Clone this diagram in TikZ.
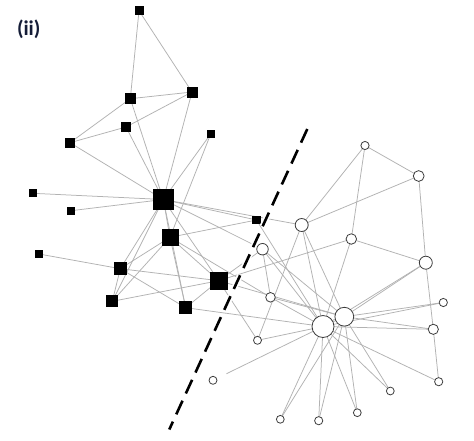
\documentclass[tikz,border=0pt]{standalone}
\usepackage{fontspec}
\setmainfont{Carlito}
\definecolor{edgegray}{RGB}{178,178,178}
\definecolor{ringgray}{RGB}{60,60,60}
\definecolor{labelnavy}{RGB}{20,28,55}
\pgfdeclarelayer{bg}
\pgfsetlayers{bg,main}
\begin{document}
\begin{tikzpicture}[x=1pt,y=-1pt,
  sq/.style={rectangle,fill=black,draw=none,minimum size=#1pt,inner sep=0pt,outer sep=0pt},
  ci/.style={circle,fill=white,draw=ringgray,line width=0.8pt,minimum size=#1pt,inner sep=0pt,outer sep=0pt},
  lnk/.style={draw=edgegray,line width=0.75pt},
  cut/.style={line width=2.6pt,dash pattern=on 15pt off 8pt}]
\useasboundingbox (0,0) rectangle (474,440);
\node[labelnavy,font=\bfseries\fontsize{21}{23}\selectfont] (lbl) at (28.7,29.2) {(ii)};
% squares
\node[sq=21] (n1) at (163.3,199.5) {};
\node[sq=17] (n2) at (170,237.3) {};
\node[sq=18] (n3) at (218.7,280.7) {};
\node[sq=13] (n4) at (120.3,268.7) {};
\node[sq=10] (n5) at (126,127) {};
\node[sq=11] (n6) at (130.3,98.7) {};
\node[sq=11] (n7) at (192,92) {};
\node[sq=12] (n8) at (112.3,301.3) {};
\node[sq=10] (n11) at (70,142.7) {};
\node[sq=8] (n12) at (33,193.3) {};
\node[sq=8] (n13) at (39,254) {};
\node[sq=13] (n14) at (185.7,307.7) {};
\node[sq=9] (n17) at (139,10.7) {};
\node[sq=8] (n18) at (210.7,134) {};
\node[sq=8.5] (n20) at (256.5,220) {};
\node[sq=8] (n22) at (71,210.7) {};
% circles
\node[ci=11.5] (n9) at (262.5,249.2) {};
\node[ci=8] (n10) at (213,380.3) {};
\node[ci=8.2] (n15) at (443.3,302.5) {};
\node[ci=7.8] (n16) at (390.3,391) {};
\node[ci=7.8] (n19) at (357.3,412.7) {};
\node[ci=8.2] (n21) at (318.7,420.7) {};
\node[ci=7.8] (n23) at (280.3,419.3) {};
\node[ci=13] (n24) at (425.8,262.7) {};
\node[ci=8.2] (n25) at (365,145.5) {};
\node[ci=10.8] (n26) at (418.7,176) {};
\node[ci=8.2] (n27) at (438.7,381.7) {};
\node[ci=10.5] (n28) at (351.3,239) {};
\node[ci=8] (n29) at (257.5,340.3) {};
\node[ci=10.2] (n30) at (433.3,329.3) {};
\node[ci=9.6] (n31) at (270.5,297.3) {};
\node[ci=13] (n32) at (301.7,225) {};
\node[ci=18.8] (n33) at (344.3,316.7) {};
\node[ci=22] (n34) at (323,326.5) {};
\begin{pgfonlayer}{bg}
\fill[white] (0,0) rectangle (474,440);
\foreach \a/\b in {n1/n2,n1/n3,n1/n4,n1/n5,n1/n6,n1/n7,n1/n8,n1/n9,n1/n11,n1/n12,n1/n14,n1/n18,n1/n20,n1/n22,n1/n32,
  n2/n3,n2/n4,n2/n8,n2/n14,n2/n18,n2/n20,n2/n31,
  n3/n4,n3/n8,n3/n9,n3/n14,n3/n28,n3/n29,n3/n33,
  n4/n8,n4/n13,n4/n14,
  n5/n7,n5/n11,n6/n7,n6/n11,n6/n17,n7/n17,
  n9/n31,n9/n33,n9/n34,n14/n34,
  n15/n33,n15/n34,n16/n33,n16/n34,n19/n33,n19/n34,n20/n34,n21/n33,n21/n34,n23/n33,n23/n34,
  n24/n26,n24/n28,n24/n30,n24/n33,n24/n34,
  n25/n26,n25/n28,n25/n32,n26/n32,n27/n30,n27/n34,n28/n34,n29/n32,n29/n34,
  n30/n33,n30/n34,n31/n33,n31/n34,n32/n33,n32/n34,n33/n34}
  {\draw[lnk] (\a.center) -- (\b.center);}
\draw[lnk,shorten >=15pt] (n34.center) -- (n10.center);
\end{pgfonlayer}
\coordinate (cutA) at (307.3,129);
\coordinate (cutB) at (169.3,429.5);
\draw[cut,white,line width=6pt] (cutA) -- (cutB);
\draw[cut,black] (cutA) -- (cutB);
\end{tikzpicture}
\end{document}
